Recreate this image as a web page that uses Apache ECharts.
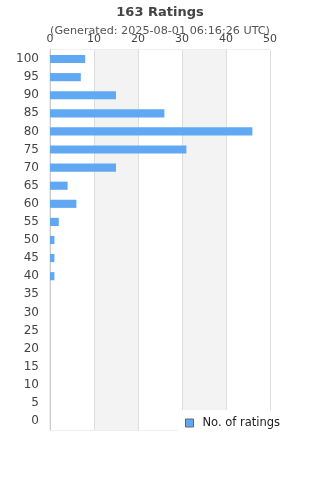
<!DOCTYPE html>
<html>
<head>
<meta charset="utf-8">
<script src="https://cdn.jsdelivr.net/npm/echarts@6/dist/echarts.min.js"></script>
<style>
  html, body { margin: 0; padding: 0; background: #fff; }
  #chart { width: 320px; height: 480px; }
</style>
</head>
<body>
<div id="chart"></div>
<script>
// rating buckets (bottom to top)
var scores = ['0', '5', '10', '15', '20', '25', '30', '35', '40', '45', '50',
              '55', '60', '65', '70', '75', '80', '85', '90', '95', '100'];
var ratings = [0, 0, 0, 0, 0, 0, 0, 0, 1, 1, 1,
               2, 6, 4, 15, 31, 46, 26, 15, 7, 8];

var myChart = echarts.init(document.getElementById('chart'));

var option = {
    title: {
        text: '163 Ratings',
        subtext: '(Generated: 2025-08-01 06:16:26 UTC)',
        left: 'center',
        top: 1,
        itemGap: 7,
        textStyle: { fontFamily: 'DejaVu Sans', fontSize: 13, fontWeight: 'bold', color: '#444' },
        subtextStyle: { fontFamily: 'DejaVu Sans', fontSize: 11.2, color: '#555' }
    },
    legend: {
        data: ['No. of ratings'],
        left: 178,
        top: 410,
        padding: [7, 8, 7, 7],
        backgroundColor: '#fff',
        icon: 'rect',
        itemWidth: 8,
        itemHeight: 8,
        itemStyle: { borderColor: '#666', borderWidth: 1 },
        textStyle: { fontFamily: 'DejaVu Sans', fontSize: 11.5, color: '#222', padding: [0, 0, 0, 4] }
    },
    grid: {
        left: 50,
        right: 50,
        top: 50,
        bottom: 50,
        show: true,
        borderColor: '#ddd',
        borderWidth: 1
    },
    xAxis: {
        type: 'value',
        position: 'top',
        min: 0,
        max: 50,
        interval: 10,
        axisLine: { show: false },
        axisTick: { show: false },
        axisLabel: { fontFamily: 'DejaVu Sans', fontSize: 11, color: '#444', margin: 5 },
        splitLine: { show: true, lineStyle: { color: '#ddd' } },
        splitArea: { show: true, areaStyle: { color: ['#ffffff', '#f3f3f3'] } }
    },
    yAxis: {
        type: 'category',
        data: scores,
        axisLine: { show: true, lineStyle: { color: '#ccc' } },
        axisTick: { show: false },
        axisLabel: { fontFamily: 'DejaVu Sans', fontSize: 12, color: '#444', margin: 11 }
    },
    series: [{
        name: 'No. of ratings',
        type: 'bar',
        barWidth: '45%',
        itemStyle: { color: '#61a8f3' },
        data: ratings
    }]
};

myChart.setOption(option);

window.addEventListener('resize', function() {
    myChart.resize();
});
</script>
</body>
</html>
